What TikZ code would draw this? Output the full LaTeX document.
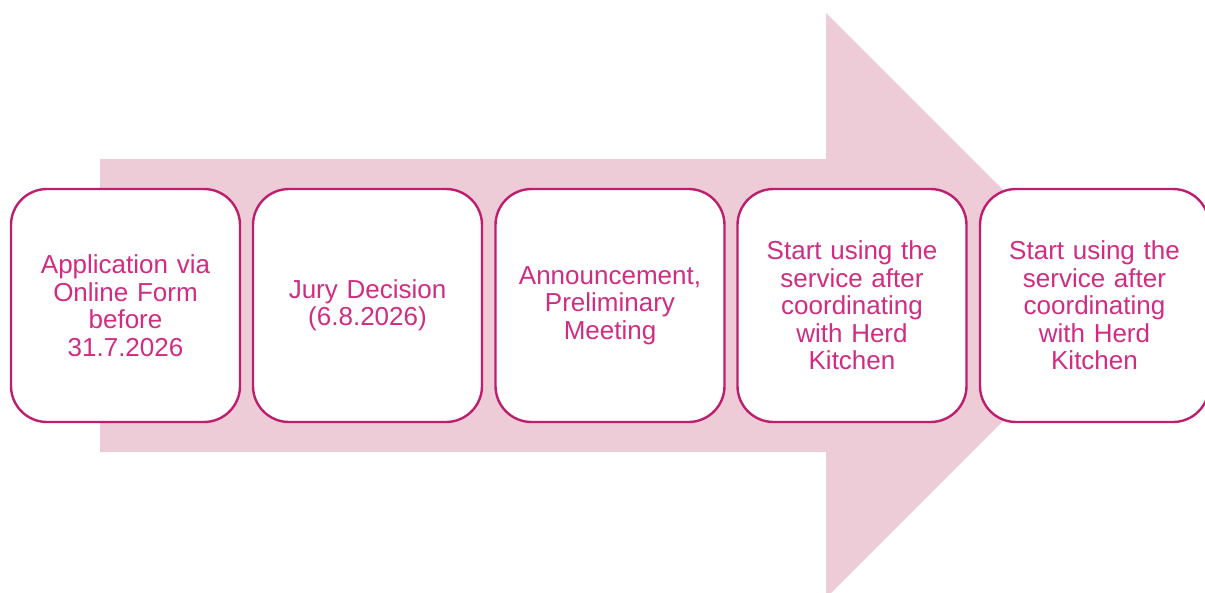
\documentclass[tikz,border=0pt]{standalone}
\usepackage{fontspec}
\setmainfont{Liberation Sans}
\definecolor{arrowpink}{RGB}{237,204,216}
\definecolor{boxline}{RGB}{190,30,110}
\definecolor{boxtext}{RGB}{208,45,130}

\begin{document}
\begin{tikzpicture}[x=1pt,y=-1pt]
\tikzstyle{stepbox}=[draw=boxline, line width=2.4pt, fill=white, rounded corners=36pt, minimum width=229pt, minimum height=233pt, text width=215pt, align=center, text=boxtext, font=\fontsize{26}{27.5}\selectfont, inner sep=0pt]
\useasboundingbox (0,0) rectangle (1205,592);
\fill [arrowpink] (100,159) -- (826,159) -- (826,13) -- (1118.5,305.5) -- (826,598) -- (826,452) -- (100,452) -- cycle;
\node [stepbox] (apply) at (125.5,305.5) {Application via\\Online Form\\before\\31.7.2026};
\node [stepbox] (jury) at (367.5,305.5) {Jury Decision\\(6.8.2026)};
\node [stepbox] (announce) at (610,305.5) {Announcement,\\Preliminary\\Meeting};
\node [stepbox] (start) at (852,305.5) {Start using the\\service after\\coordinating\\with Herd\\Kitchen};
\node [stepbox] (startb) at (1094.5,305.5) {Start using the\\service after\\coordinating\\with Herd\\Kitchen};
\end{tikzpicture}
\end{document}
